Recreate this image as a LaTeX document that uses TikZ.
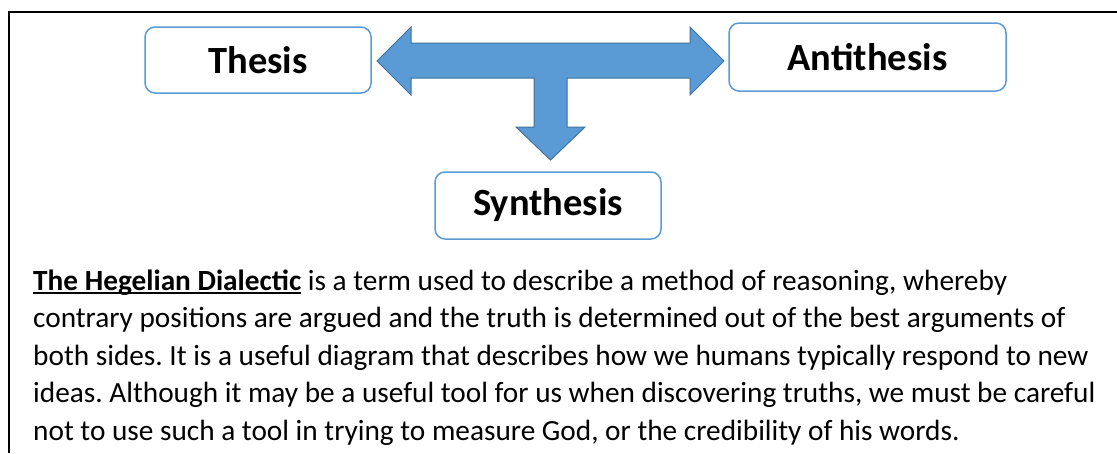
\documentclass[tikz,border=0pt]{standalone}
\usepackage{fontspec}
\setmainfont{Carlito}
\usepackage{tikz}
\usetikzlibrary{positioning}

\definecolor{boxblue}{HTML}{5B9BD5}
\definecolor{arrowedge}{HTML}{41719C}

\newcommand{\ulword}[1]{\setbox0=\hbox{#1}\rlap{\rule[-4pt]{\wd0}{1.8pt}}\box0\relax}

\begin{document}
\begin{tikzpicture}[x=1pt, y=-1pt,
  stage/.style={rectangle, rounded corners=10pt, draw=boxblue, line width=1.5pt,
    fill=white, font=\fontsize{38.5}{46}\selectfont\bfseries},
  blockarrow/.style={fill=boxblue, draw=arrowedge, line width=1pt, line join=miter}]
  \useasboundingbox (0,0) rectangle (1117,453);

  % Frame (top and left edges only)
  \draw[line width=2.7pt] (9,453) -- (9,12) -- (1117,12);

  % Stages
  \node[stage, minimum width=226pt, minimum height=66pt] (thesis) at (258,60) {Thesis};
  \node[stage, minimum width=277pt, minimum height=68pt] (anti) at (867.5,57) {Antithesis};
  \node[stage, minimum width=226pt, minimum height=67pt] (synth) at (548,205.5) {Synthesis};

  % Block arrow between the stages
  \coordinate (hub) at (550.5,61);
  \draw[blockarrow] (377,61) -- (411,27) -- (411,43) -- (690,43) -- (690,27)
    -- (724,61) -- (690,95) -- (690,78) -- (567,78) -- (567,127) -- (585,127)
    -- (550.5,160) -- (516,127) -- (534,127) -- (534,78) -- (411,78) -- (411,95) -- cycle;

  % Description (anchored on the baseline of its last line)
  \node[anchor=base west, align=left, inner sep=0pt,
    font=\fontsize{29.3}{37.5}\selectfont\frenchspacing] (desc) at (33,440)
    {\ulword{\textbf{The Hegelian Dialectic}} is a term used to describe a method of reasoning, whereby\\
     contrary positions are argued and the truth is determined out of the best arguments of\\
     both sides. It is a useful diagram that describes how we humans typically respond to new\\
     ideas. Although it may be a useful tool for us when discovering truths, we must be careful\\
     not to use such a tool in trying to measure God, or the credibility of his words.};
\end{tikzpicture}
\end{document}
